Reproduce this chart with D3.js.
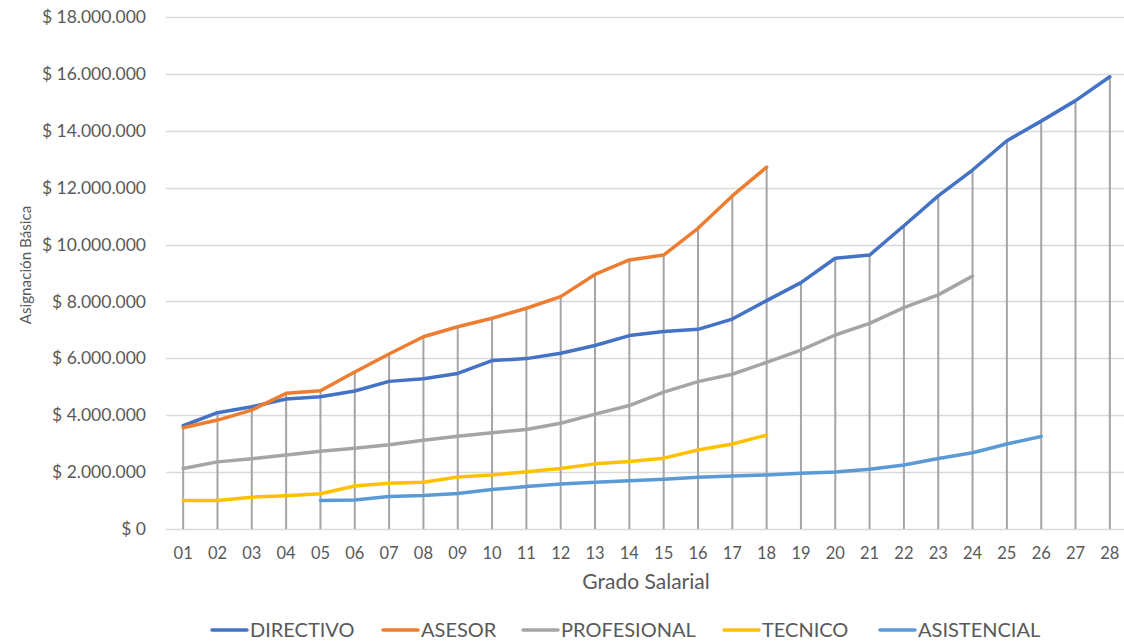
<!DOCTYPE html>
<html>
<head>
<meta charset="utf-8">
<script src="https://cdn.jsdelivr.net/npm/d3@7"></script>
<style>
  body { margin: 0; background: #fff; }
  svg text { font-family: "Lato", "Liberation Sans", sans-serif; fill: #595959; }
</style>
</head>
<body>
<div id="chart"></div>
<script>
"use strict";

var grados = ["01","02","03","04","05","06","07","08","09","10","11","12","13","14",
  "15","16","17","18","19","20","21","22","23","24","25","26","27","28"];

var directivo = [3.63,4.09,4.30,4.57,4.65,4.85,5.19,5.28,5.47,5.92,5.99,6.18,6.45,6.80,
  6.94,7.02,7.38,8.03,8.66,9.52,9.63,10.66,11.71,12.62,13.65,14.34,15.06,15.90];
var asesor = [3.56,3.83,4.18,4.77,4.86,5.52,6.15,6.76,7.11,7.41,7.76,8.17,8.95,9.46,
  9.63,10.57,11.71,12.72];
var profesional = [2.13,2.36,2.47,2.60,2.73,2.84,2.96,3.12,3.26,3.38,3.50,3.72,4.04,4.34,
  4.81,5.18,5.44,5.86,6.29,6.82,7.23,7.78,8.23,8.89];
var tecnico = [1.00,1.00,1.12,1.17,1.24,1.51,1.61,1.64,1.83,1.90,2.01,2.13,2.29,2.37,
  2.49,2.78,2.99,3.30];
// asistencial starts at grado 05
var asistencial = [null,null,null,null,1.00,1.02,1.14,1.18,1.25,1.39,1.49,1.58,1.64,1.70,
  1.75,1.82,1.86,1.90,1.96,2.00,2.10,2.25,2.48,2.68,2.99,3.25];

var yTicks = [0,2,4,6,8,10,12,14,16,18];

var series = [
  {name: "DIRECTIVO", color: "#4472C4", values: directivo},
  {name: "ASESOR", color: "#ED7D31", values: asesor},
  {name: "PROFESIONAL", color: "#A5A5A5", values: profesional},
  {name: "TECNICO", color: "#FFC000", values: tecnico},
  {name: "ASISTENCIAL", color: "#5B9BD5", values: asistencial}
];

var width = 1124, height = 642;
var plotLeft = 166, plotRight = 1127, plotTop = 17, plotBottom = 529;

var svg = d3.select("#chart").append("svg")
  .attr("width", width)
  .attr("height", height);

var x = d3.scalePoint().domain(grados).range([plotLeft, plotRight]).padding(0.5);
var y = d3.scaleLinear().domain([0, 18]).range([plotBottom, plotTop]);

var loc = d3.formatLocale({decimal: ",", thousands: ".", grouping: [3], currency: ["$ ", ""]});
var fmt = loc.format("$,.0f");

// gridlines
svg.append("g").selectAll("line")
  .data(yTicks)
  .enter().append("line")
  .attr("x1", plotLeft).attr("x2", plotRight)
  .attr("y1", function(d) { return Math.round(y(d)) + 0.5; })
  .attr("y2", function(d) { return Math.round(y(d)) + 0.5; })
  .attr("stroke", "#d9d9d9")
  .attr("stroke-width", 1.5);

// y labels
svg.append("g").selectAll("text")
  .data(yTicks)
  .enter().append("text")
  .attr("x", 146)
  .attr("y", function(d) { return y(d); })
  .attr("dy", "0.35em")
  .attr("text-anchor", "end")
  .style("font-size", "17.5px")
  .text(function(d) { return fmt(d * 1000000); });

// drop lines from highest point
var maxes = grados.map(function(g, i) {
  var m = d3.max(series, function(s) { return s.values[i]; });
  return {g: g, v: m};
});
svg.append("g").selectAll("line")
  .data(maxes)
  .enter().append("line")
  .attr("x1", function(d) { return x(d.g); })
  .attr("x2", function(d) { return x(d.g); })
  .attr("y1", function(d) { return y(d.v); })
  .attr("y2", plotBottom)
  .attr("stroke", "#a5a5a5")
  .attr("stroke-width", 2);

// series lines
var line = d3.line()
  .defined(function(d) { return d != null; })
  .x(function(d, i) { return x(grados[i]); })
  .y(function(d) { return y(d); });

svg.append("g").selectAll("path")
  .data(series)
  .enter().append("path")
  .attr("d", function(s) { return line(s.values); })
  .attr("fill", "none")
  .attr("stroke", function(s) { return s.color; })
  .attr("stroke-width", 3.5)
  .attr("stroke-linejoin", "round")
  .attr("stroke-linecap", "round");

// x labels
svg.append("g").selectAll("text")
  .data(grados)
  .enter().append("text")
  .attr("x", function(d) { return x(d); })
  .attr("y", 559)
  .attr("text-anchor", "middle")
  .style("font-size", "16.5px")
  .text(function(d) { return d; });

svg.append("text")
  .attr("x", 646).attr("y", 589)
  .attr("text-anchor", "middle")
  .style("font-size", "21px")
  .text("Grado Salarial");

svg.append("text")
  .attr("transform", "translate(31,265) rotate(-90)")
  .attr("text-anchor", "middle")
  .style("font-size", "15.2px")
  .text("Asignación Básica");

// legend
var legendX = [212, 383, 523, 724, 880];
var lg = svg.append("g").selectAll("g")
  .data(series)
  .enter().append("g")
  .attr("transform", function(d, i) { return "translate(" + legendX[i] + ",630)"; });
lg.append("line")
  .attr("x1", 0).attr("x2", 35)
  .attr("stroke", function(d) { return d.color; })
  .attr("stroke-width", 3.5)
  .attr("stroke-linecap", "round");
lg.append("text")
  .attr("x", 38)
  .attr("dy", "0.36em")
  .style("font-size", "20px")
  .text(function(d) { return d.name; });
</script>
</body>
</html>
